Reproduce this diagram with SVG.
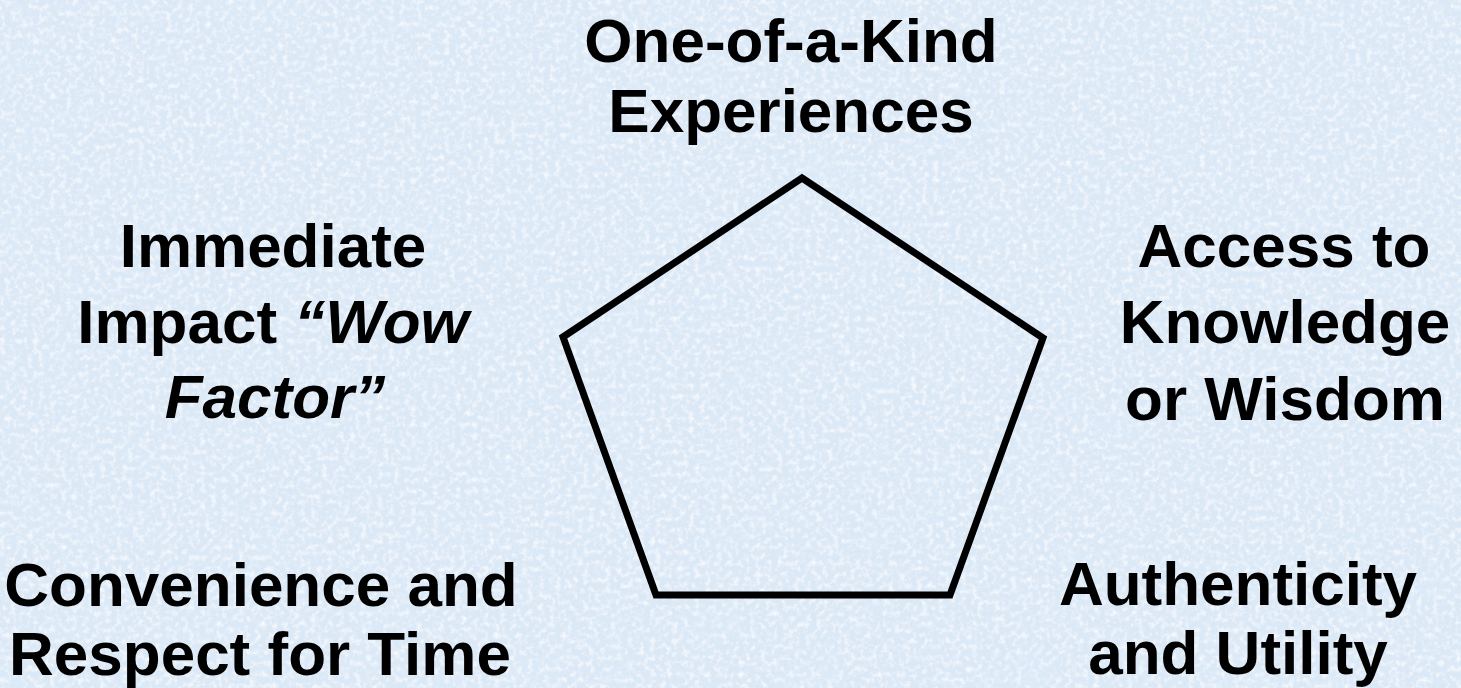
<svg xmlns="http://www.w3.org/2000/svg" width="1461" height="688" viewBox="0 0 1461 688">
  <defs>
    <filter id="tex" x="0" y="0" width="100%" height="100%">
      <feTurbulence type="fractalNoise" baseFrequency="0.18" numOctaves="3" seed="7" result="n"/>
      <feColorMatrix in="n" type="matrix" values="0 0 0 0 1  0 0 0 0 1  0 0 0 0 1  0 0 0 1.8 -0.8" result="w"/>
      <feComposite in="w" in2="SourceGraphic" operator="over"/>
    </filter>
    <filter id="tex2" x="0" y="0" width="100%" height="100%">
      <feTurbulence type="fractalNoise" baseFrequency="0.02" numOctaves="2" seed="3" result="n2"/>
      <feColorMatrix in="n2" type="matrix" values="0 0 0 0 0.74  0 0 0 0 0.86  0 0 0 0 0.97  0 0 0 1.2 -0.5"/>
    </filter>
    <style>
      .lbl { font-family: "Liberation Sans", Arial, sans-serif; font-weight: bold; font-size: 62px; fill: #000; text-anchor: middle; }
      .it { font-style: italic; }
      .shape { fill: none; stroke: #000; stroke-width: 7; stroke-linejoin: miter; }
    </style>
  </defs>
  <rect id="background" x="0" y="0" width="1461" height="688" fill="#dbe8f6" filter="url(#tex)"/>
  <rect x="0" y="0" width="1461" height="688" fill="#dbe8f6" filter="url(#tex2)" opacity="0.6"/>

  <g id="pentagon">
    <polygon class="shape" points="802,178 1043,338 950,595 656,595 563,337"/>
  </g>

  <g id="node-top">
    <text class="lbl" x="791" y="62">One-of-a-Kind</text>
    <text class="lbl" x="791" y="132">Experiences</text>
  </g>
  <g id="node-left">
    <text class="lbl" x="273" y="267">Immediate</text>
    <text class="lbl" x="273" y="343">Impact <tspan class="it">“Wow</tspan></text>
    <text class="lbl it" x="275" y="418">Factor”</text>
  </g>
  <g id="node-right">
    <text class="lbl" x="1284" y="267">Access to</text>
    <text class="lbl" x="1285" y="343">Knowledge</text>
    <text class="lbl" x="1285" y="420">or Wisdom</text>
  </g>
  <g id="node-bottom-left">
    <text class="lbl" x="261" y="606">Convenience and</text>
    <text class="lbl" x="260" y="675">Respect for Time</text>
  </g>
  <g id="node-bottom-right">
    <text class="lbl" x="1238" y="605">Authenticity</text>
    <text class="lbl" x="1238" y="674">and Utility</text>
  </g>
  <g id="connectors"/>
</svg>
